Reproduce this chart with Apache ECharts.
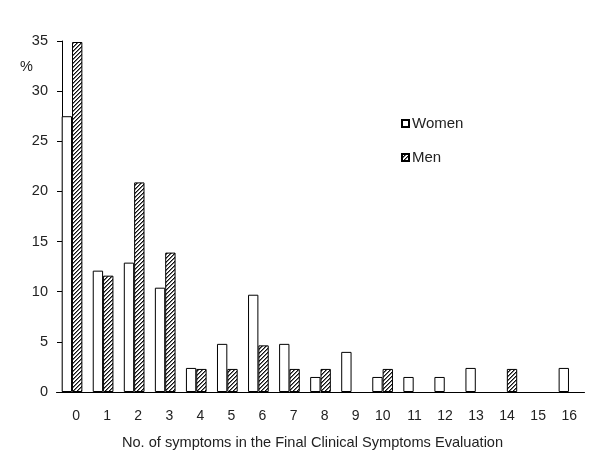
<!DOCTYPE html>
<html><head><meta charset="utf-8">
<script src="https://cdn.jsdelivr.net/npm/echarts@6/dist/echarts.min.js"></script>
<style>html,body{margin:0;padding:0;background:#fff}#c{width:600px;height:458px}</style>
</head><body><div id="c"></div>
<script>
const categories = ['0','1','2','3','4','5','6','7','8','9','10','11','12','13','14','15','16'];
const women = [27.5, 12.1, 12.9, 10.4, 2.4, 4.8, 9.7, 4.8, 1.5, 4.0, 1.5, 1.5, 1.5, 2.4, 0, 0, 2.4];
const men = [34.9, 11.6, 20.9, 13.9, 2.3, 2.3, 4.65, 2.3, 2.3, 0, 2.3, 0, 0, 0, 2.3, 0, 0];
const yTicks = [0, 5, 10, 15, 20, 25, 30, 35];

const pc = document.createElement('canvas');
pc.width = 4; pc.height = 4;
const g = pc.getContext('2d');
g.fillStyle = '#fff'; g.fillRect(0,0,4,4);
g.fillStyle = '#111';
for (let i = 0; i < 4; i++) { g.fillRect(3 - i, i, 1, 1); }
g.fillStyle = '#777';
for (let i = 0; i < 4; i++) { g.fillRect((4 - i) % 4, i, 1, 1); }
const hatch = { image: pc, repeat: 'repeat' };

const noZero = arr => arr.map(v => v === 0 ? '-' : v);

const font = 'Arial, "Liberation Sans", sans-serif';
const chart = echarts.init(document.getElementById('c'));
chart.setOption({
  animation: false,
  backgroundColor: '#fff',
  grid: { left: 56.5, right: 15.5, top: 41, bottom: 66, containLabel: false },
  legend: {
    orient: 'vertical', left: 396, top: 111, itemWidth: 7, itemHeight: 7, itemGap: 19,
    icon: 'rect',
    textStyle: { fontFamily: font, fontSize: 15, color: '#222', padding: [0,0,0,-2] },
    data: ['Women', 'Men']
  },
  xAxis: {
    type: 'category', data: categories, boundaryGap: true,
    axisLine: { lineStyle: { color: '#000', width: 1 } },
    axisTick: { show: false },
    axisLabel: { fontFamily: font, fontSize: 14, color: '#222', margin: 17, align: 'right', padding: [0,-8,0,0] },
    name: 'No. of symptoms in the Final Clinical Symptoms Evaluation',
    nameLocation: 'middle', nameGap: 43,
    nameTextStyle: { fontFamily: font, fontSize: 14.6, color: '#222', padding: [0,16,0,0] }
  },
  yAxis: {
    type: 'value', min: 0, max: 35, interval: 5, offset: -5.5,
    axisLine: { show: true, lineStyle: { color: '#000', width: 1 } },
    axisTick: { show: true, length: 5, lineStyle: { color: '#000' } },
    splitLine: { show: false },
    axisLabel: { fontFamily: font, fontSize: 14.5, color: '#222', margin: 14,
      formatter: v => yTicks.includes(v) ? String(v) : '' }
  },
  graphic: [{ type: 'text', left: 20, top: 59, style: { text: '%', fontFamily: font, fontSize: 14.5, fill: '#222' } }],
  series: [
    { name: 'Women', type: 'bar', data: noZero(women), barGap: '0%', barCategoryGap: '33.4%',
      itemStyle: { color: '#fff', borderColor: '#000', borderWidth: 1 } },
    { name: 'Men', type: 'bar', data: noZero(men), barGap: '0%', barCategoryGap: '33.4%',
      itemStyle: { color: hatch, borderColor: '#000', borderWidth: 1 } }
  ]
});
</script></body></html>
